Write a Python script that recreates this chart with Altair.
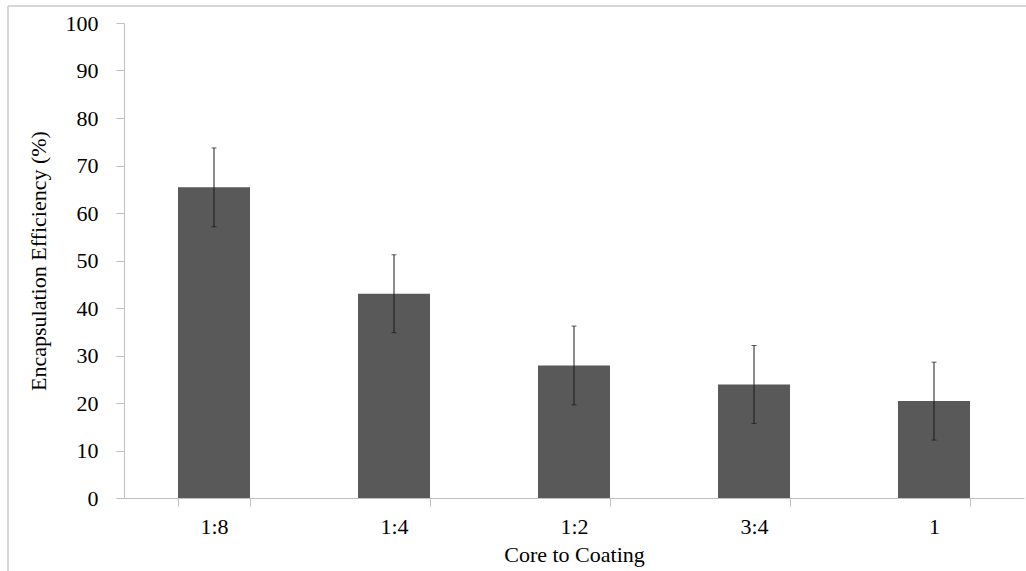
import altair as alt
import pandas as pd

categories = ["1:8", "1:4", "1:2", "3:4", "1"]
efficiency = [65.4, 43.0, 27.9, 23.9, 20.4]
error = [8.3, 8.2, 8.3, 8.2, 8.2]
y_ticks = [0, 10, 20, 30, 40, 50, 60, 70, 80, 90, 100]

df = pd.DataFrame({"cat": categories, "val": efficiency, "err": error})
df["lo"] = df["val"] - df["err"]
df["hi"] = df["val"] + df["err"]

FONT = "Liberation Serif"
AX_COLOR = "#bfbfbf"

xscale = alt.Scale(paddingInner=0.6, paddingOuter=0.3)
yscale = alt.Scale(domain=[0, 100], nice=False)

x_enc = alt.X(
    "cat:N", sort=categories, scale=xscale,
    axis=alt.Axis(
        title="Core to Coating", labelAngle=0, tickBand="extent",
        labelFont=FONT, labelFontSize=22, labelColor="#000000",
        labelBaseline="alphabetic", labelPadding=27,
        titleFont=FONT, titleFontSize=22, titleFontWeight="normal", titleColor="#000000",
        titleBaseline="alphabetic", titleY=63,
        domainColor=AX_COLOR, tickColor=AX_COLOR, tickSize=8, grid=False,
    ),
)
y_axis = alt.Axis(
    title="Encapsulation Efficiency (%)", values=y_ticks,
    labelFont=FONT, labelFontSize=22, labelColor="#000000", labelPadding=18,
    titleFont=FONT, titleFontSize=22, titleFontWeight="normal", titleColor="#000000",
    titleBaseline="alphabetic", titleX=-79, titleY=237.5, titleAngle=-90,
    domainColor=AX_COLOR, tickColor=AX_COLOR, tickSize=8, grid=False,
)

base = alt.Chart(df)

bars = base.mark_bar(color="#595959").encode(
    x=x_enc,
    y=alt.Y("val:Q", scale=yscale, axis=y_axis),
)
rules = base.mark_rule(color="#1a1a1a", strokeWidth=1).encode(
    x=alt.X("cat:N", sort=categories, scale=xscale),
    y=alt.Y("lo:Q", scale=yscale),
    y2="hi:Q",
)
caps_hi = base.mark_tick(color="#1a1a1a", size=5, thickness=1, orient="horizontal").encode(
    x=alt.X("cat:N", sort=categories, scale=xscale),
    y=alt.Y("hi:Q", scale=yscale),
)
caps_lo = base.mark_tick(color="#1a1a1a", size=5, thickness=1, orient="horizontal").encode(
    x=alt.X("cat:N", sort=categories, scale=xscale),
    y=alt.Y("lo:Q", scale=yscale),
)

border_top = alt.Chart(pd.DataFrame({"a": [0]})).mark_rule(color="#c8c8c8", strokeWidth=1.5).encode(
    x=alt.value(-116), x2=alt.value(902), y=alt.value(-17)
)
border_left = alt.Chart(pd.DataFrame({"a": [0]})).mark_rule(color="#c8c8c8", strokeWidth=1.5).encode(
    x=alt.value(-116), y=alt.value(-17), y2=alt.value(548)
)

chart = alt.layer(bars, rules, caps_hi, caps_lo, border_top, border_left).properties(
    width=900, height=475,
    autosize=alt.AutoSizeParams(type="none"),
    padding={"left": 124, "top": 23, "right": 2, "bottom": 73},
    background="#ffffff",
).configure_view(stroke=None)

chart.save("out.html", embed_options={"renderer": "svg", "actions": False})
